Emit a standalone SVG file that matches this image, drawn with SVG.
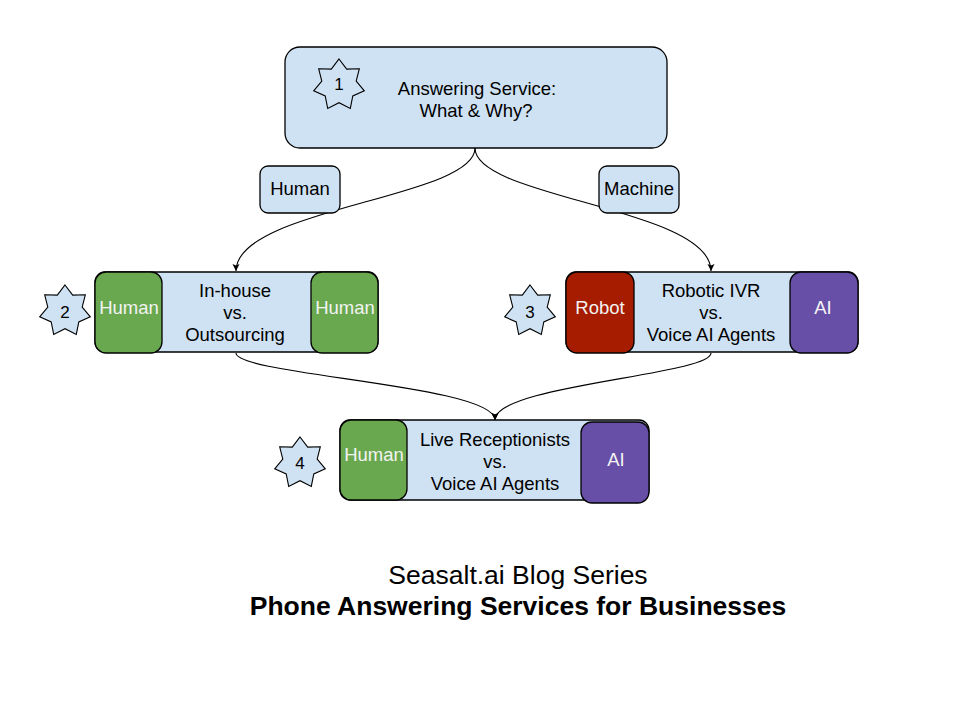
<svg xmlns="http://www.w3.org/2000/svg" width="960" height="720" viewBox="0 0 960 720">
<defs>
<style>
.t{font-family:"Liberation Sans",Arial,sans-serif;font-size:18.5px;fill:#000;text-anchor:middle}
.w{fill:#f3f3f3}
.n{font-size:17px}
.bx{fill:#cfe2f3;stroke:#000;stroke-width:1.3}
.g{fill:#6aa84f;stroke:#000;stroke-width:1.3}
.r{fill:#a61c00;stroke:#000;stroke-width:1.3}
.p{fill:#674ea7;stroke:#000;stroke-width:1.3}
.star{fill:#cfe2f3;stroke:#000;stroke-width:1.1}
.c{fill:none;stroke:#000;stroke-width:1.1}
.ttl{font-family:"Liberation Sans",Arial,sans-serif;font-size:26.5px;fill:#000;text-anchor:middle}
</style>
<path id="star7" d="M0,-26 L7.7,-15.9 L20.3,-16.2 L17.2,-3.9 L25.3,5.8 L13.8,11 L11.3,23.4 L0,17.7 L-11.3,23.4 L-13.8,11 L-25.3,5.8 L-17.2,-3.9 L-20.3,-16.2 L-7.7,-15.9 Z"/>
<marker id="arr" markerUnits="userSpaceOnUse" markerWidth="10" markerHeight="10" refX="7" refY="4" orient="auto">
<path d="M0,0.5 L7,4 L0,7.5 L1.5,4 Z" fill="#000"/>
</marker>
</defs>
<rect width="960" height="720" fill="#fff"/>

<g id="connectors">
<path class="c" d="M475,148 C475,198 236,208 236,271" marker-end="url(#arr)"/>
<path class="c" d="M475,148 C475,198 711,208 711,271" marker-end="url(#arr)"/>
<path class="c" d="M236,353 C236,375 495,385 495,420" marker-end="url(#arr)"/>
<path class="c" d="M711,353 C711,375 495,385 495,420" marker-end="url(#arr)"/>
</g>

<g id="node1">
<rect class="bx" x="285" y="47" width="382" height="101" rx="15"/>
<use href="#star7" class="star" x="339" y="85"/>
<text class="t n" x="339" y="90">1</text>
<text class="t" x="477" y="95">Answering Service:</text>
<text class="t" x="476" y="117">What &amp; Why?</text>
</g>

<g id="label-human">
<rect class="bx" x="260" y="166" width="80" height="47" rx="8"/>
<text class="t" x="300" y="195">Human</text>
</g>

<g id="label-machine">
<rect class="bx" x="599" y="166" width="80" height="47" rx="8"/>
<text class="t" x="639" y="195">Machine</text>
</g>

<g id="node2">
<use href="#star7" class="star" x="65" y="311"/>
<text class="t n" x="65" y="318">2</text>
<rect class="bx" x="95" y="272" width="283" height="80" rx="10"/>
<rect class="g" x="95" y="272" width="67" height="81" rx="11"/>
<rect class="g" x="311" y="272" width="67" height="81" rx="11"/>
<text class="t w" x="129" y="314">Human</text>
<text class="t w" x="345" y="314">Human</text>
<text class="t" x="235" y="297">In-house</text>
<text class="t" x="235" y="319">vs.</text>
<text class="t" x="235" y="341">Outsourcing</text>
</g>

<g id="node3">
<use href="#star7" class="star" x="530" y="311"/>
<text class="t n" x="530" y="318">3</text>
<rect class="bx" x="566" y="272" width="292" height="80" rx="10"/>
<rect class="r" x="566" y="272" width="68" height="81" rx="11"/>
<rect class="p" x="790" y="272" width="68" height="81" rx="11"/>
<text class="t w" x="600" y="314">Robot</text>
<text class="t w" x="823" y="314">AI</text>
<text class="t" x="711" y="297">Robotic IVR</text>
<text class="t" x="711" y="319">vs.</text>
<text class="t" x="711" y="341">Voice AI Agents</text>
</g>

<g id="node4">
<use href="#star7" class="star" x="300" y="463"/>
<text class="t n" x="300" y="469">4</text>
<rect class="bx" x="340" y="420" width="309" height="80" rx="10"/>
<rect class="g" x="340" y="420" width="67" height="80" rx="11"/>
<rect class="p" x="581" y="422" width="68" height="81" rx="11"/>
<text class="t w" x="374" y="461">Human</text>
<text class="t w" x="616" y="466">AI</text>
<text class="t" x="495" y="446">Live Receptionists</text>
<text class="t" x="495" y="468">vs.</text>
<text class="t" x="495" y="490">Voice AI Agents</text>
</g>

<g id="title">
<text class="ttl" x="518" y="584">Seasalt.ai Blog Series</text>
<text class="ttl" x="518" y="615" font-weight="bold">Phone Answering Services for Businesses</text>
</g>
</svg>
